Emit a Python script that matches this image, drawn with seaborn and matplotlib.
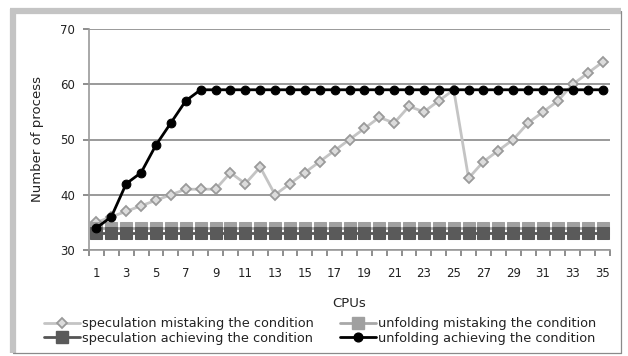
import matplotlib
matplotlib.use("Agg")
import matplotlib.pyplot as plt
from matplotlib.lines import Line2D
import numpy as np
import pandas as pd
import seaborn as sns

# CPU counts on the category axis
cpus = list(range(1, 36))

spec_mistaking = [35, 36, 37, 38, 39, 40, 41, 41, 41, 44, 42, 45, 40, 42, 44, 46, 48, 50,
                  52, 54, 53, 56, 55, 57, 59, 43, 46, 48, 50, 53, 55, 57, 60, 62, 64]
unfold_mistaking = [34] * 35
spec_achieving = [33] * 35
unfold_achieving = [34, 36, 42, 44, 49, 53, 57, 59, 59, 59, 59, 59, 59, 59, 59, 59, 59, 59,
                    59, 59, 59, 59, 59, 59, 59, 59, 59, 59, 59, 59, 59, 59, 59, 59, 59]

series_names = [
    "speculation mistaking the condition",
    "unfolding mistaking the condition",
    "speculation achieving the condition",
    "unfolding achieving the condition",
]
series_values = [spec_mistaking, unfold_mistaking, spec_achieving, unfold_achieving]

y_ticks = [30, 40, 50, 60, 70]
x_tick_labels = [str(c) for c in cpus[::2]]

sns.set_theme(style="ticks")
plt.rcParams["font.family"] = ["DejaVu Sans"]

fig = plt.figure(figsize=(6.28, 3.56), dpi=100)
fig.patch.set_facecolor("white")
ax = fig.add_axes([89 / 628, 1 - 250 / 356, (610 - 89) / 628, (250 - 29) / 356])

styles = {
    series_names[0]: dict(color="#c4c4c4", marker="D", markersize=5.0,
                          markerfacecolor="#dcdcdc", markeredgecolor="#9a9a9a",
                          markeredgewidth=1.3, linewidth=2.0),
    series_names[1]: dict(color="#a8a8a8", marker="s", markersize=8.0,
                          markerfacecolor="#a0a0a0", markeredgecolor="#a0a0a0",
                          linewidth=2.0),
    series_names[2]: dict(color="#555555", marker="s", markersize=8.0,
                          markerfacecolor="#5a5a5a", markeredgecolor="#5a5a5a",
                          linewidth=2.0),
    series_names[3]: dict(color="#000000", marker="o", markersize=6.3,
                          markerfacecolor="#000000", markeredgecolor="#000000",
                          linewidth=2.0),
}

frame = pd.DataFrame({
    "CPUs": cpus * len(series_names),
    "value": np.concatenate(series_values),
    "series": np.repeat(series_names, len(cpus)),
})

for i, name in enumerate(series_names):
    sub = frame[frame["series"] == name]
    sns.lineplot(data=sub, x="CPUs", y="value", ax=ax, legend=False,
                 zorder=3 + i, clip_on=False, **styles[name])

ax.set_xlim(0.5, 35.5)
ax.set_ylim(30, 70)

# gridlines and axis styling
ax.set_yticks(y_ticks)
ax.yaxis.grid(True, color="#9a9a9a", linewidth=1.4)
ax.xaxis.grid(False)
for side in ["top", "right"]:
    ax.spines[side].set_visible(False)
for side in ["left", "bottom"]:
    ax.spines[side].set_color("#9a9a9a")
    ax.spines[side].set_linewidth(1.2)

# labels sit on odd categories; tick marks sit on category boundaries
ax.set_xticks(cpus[::2])
ax.set_xticklabels(x_tick_labels)
ax.tick_params(axis="x", which="major", length=0, pad=12, labelsize=8.5,
               labelcolor="#222222")
ax.tick_params(axis="y", which="major", length=0, pad=10,
               labelsize=8.5, labelcolor="#222222")

boundaries = np.arange(cpus[0] - 0.5, cpus[-1] + 1.0, 1.0)
ax.vlines(boundaries, 0, -6 / 221, transform=ax.get_xaxis_transform(),
          color="#7a7a7a", linewidth=1.2, clip_on=False, zorder=2)
ax.hlines(y_ticks, -6 / 521, 0, transform=ax.get_yaxis_transform(),
          color="#7a7a7a", linewidth=1.2, clip_on=False, zorder=2)

ax.set_xlabel("CPUs", fontsize=9.5, color="#222222")
ax.set_ylabel("Number of process", fontsize=9.5, color="#222222")
ax.xaxis.set_label_coords(0.5, (250 - 297) / 221)
ax.yaxis.set_label_coords((44 - 89) / 521, 0.5)

# legend in two columns below the plot
handles = [Line2D([0], [0], **styles[n]) for n in series_names]
order = [0, 2, 1, 3]
fig.legend([handles[k] for k in order], [series_names[k] for k in order],
           loc="center", bbox_to_anchor=(0.51, 1 - 331 / 356), ncol=2, frameon=False,
           fontsize=9.3, handlelength=2.8, handletextpad=0.15, columnspacing=2.0,
           labelspacing=0.15, labelcolor="#222222")

# chart border with a soft shadow on the top and left edges
def fig_line(xs, ys, **kw):
    fig.add_artist(Line2D([x / 628 for x in xs], [1 - y / 356 for y in ys],
                          transform=fig.transFigure, **kw))

fig_line([10, 621], [11, 11], color="#c4c4c4", linewidth=4.5, solid_capstyle="butt")
fig_line([13, 13], [9, 353], color="#c4c4c4", linewidth=4.5, solid_capstyle="butt")
fig_line([621, 621], [11, 353], color="#8a8a8a", linewidth=0.9)
fig_line([13, 621], [353, 353], color="#8a8a8a", linewidth=0.9)

fig.savefig("out.png", dpi=100, facecolor="white")
